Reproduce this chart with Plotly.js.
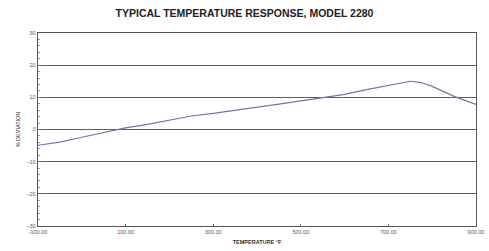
<!DOCTYPE html>
<html><head><meta charset="utf-8">
<script src="https://cdn.plot.ly/plotly-3.0.1.min.js"></script>
<style>html,body{margin:0;padding:0;background:#fff;}#c{width:489px;height:251px;}</style>
</head><body><div id="c"></div>
<script>
const temperatureF = [-100, -50, 0, 50, 100, 150, 200, 250, 300, 350, 400, 450, 500, 550, 600, 650, 700, 750, 775, 800, 850, 900];
const deviationPct = [-4.9, -3.9, -2.4, -0.9, 0.5, 1.6, 3.0, 4.2, 5.0, 5.9, 6.9, 7.9, 8.9, 9.9, 10.9, 12.4, 13.8, 15.0, 14.6, 13.4, 10.3, 7.8];
const xTicks = [-100, 100, 300, 500, 700, 900];
const xTickLabels = ["-100.00", "100.00", "300.00", "500.00", "700.00", "900.00"];
const yTicks = [-30, -20, -10, 0, 10, 20, 30];

const tickFont = {family: "Liberation Sans, Arial, sans-serif", size: 5.5, color: "#555"};
Plotly.newPlot("c", [{
  x: temperatureF, y: deviationPct, type: "scatter", mode: "lines",
  line: {color: "#7474aa", width: 1.2}, hoverinfo: "skip"
}], {
  width: 489, height: 251,
  margin: {l: 38, r: 13, t: 33, b: 25, pad: 0},
  paper_bgcolor: "#fff", plot_bgcolor: "#fff",
  showlegend: false,
  title: {text: "<b>TYPICAL TEMPERATURE RESPONSE, MODEL 2280</b>", x: 0.5, xanchor: "center", y: 0.945, yanchor: "middle",
    font: {family: "Liberation Sans, Arial, sans-serif", size: 10.5, color: "#222"}},
  xaxis: {range: [-100, 900], tickvals: xTicks, ticktext: xTickLabels, showgrid: false, zeroline: false,
    showline: true, linecolor: "#555", linewidth: 1.2, mirror: true,
    ticks: "inside", ticklen: 2, tickcolor: "#777", tickfont: tickFont,
    title: {text: "<b>TEMPERATURE °F</b>", standoff: 6, font: {family: "Liberation Sans, Arial, sans-serif", size: 5.5, color: "#333"}}},
  yaxis: {range: [-30, 30], tickvals: yTicks, showgrid: true, gridcolor: "#5e5e5e", gridwidth: 1.2, zeroline: false,
    showline: true, linecolor: "#555", linewidth: 1.2, mirror: true,
    ticks: "inside", ticklen: 3, tickcolor: "#777", tickfont: tickFont,
    minor: {dtick: 2, ticks: "inside", ticklen: 2, tickcolor: "#999", showgrid: false},
    title: {text: "% DEVIATION", standoff: 5, font: {family: "Liberation Sans, Arial, sans-serif", size: 5.5, color: "#333"}}}
}, {staticPlot: true, displayModeBar: false});
</script></body></html>
